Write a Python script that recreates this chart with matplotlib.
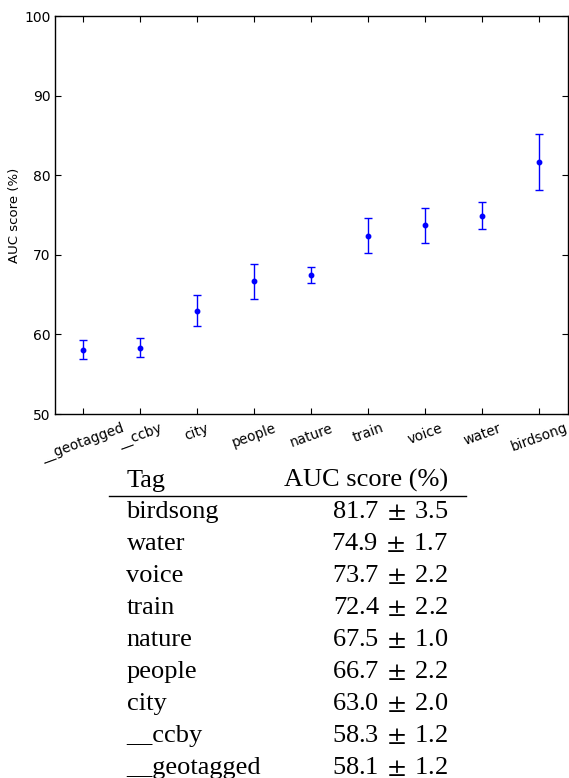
import matplotlib
matplotlib.use('Agg')
import matplotlib.pyplot as plt
from matplotlib.lines import Line2D

plt.rcParams['mathtext.fontset'] = 'stix'

# AUC score per tag (mean and error), in plot order
tags = ['__geotagged', '__ccby', 'city', 'people', 'nature',
        'train', 'voice', 'water', 'birdsong']
auc_mean = [58.1, 58.3, 63.0, 66.7, 67.5, 72.4, 73.7, 74.9, 81.7]
auc_err = [1.2, 1.2, 2.0, 2.2, 1.0, 2.2, 2.2, 1.7, 3.5]

W, H = 569, 778


def fx(px):
    return px / W


def fy(py):
    return 1 - py / H


fig = plt.figure(figsize=(W / 100, H / 100), dpi=100)
fig.patch.set_facecolor('white')

ax = fig.add_axes([fx(54.5), fy(414), fx(567.5 - 54.5), (414 - 16) / H])
x = list(range(len(tags)))
ax.errorbar(x, auc_mean, yerr=auc_err, fmt='o', color='#0000ff',
            ecolor='#0000ff', markersize=3.2, capsize=3, elinewidth=1,
            capthick=1)
ax.set_xlim(-0.5, len(tags) - 0.5)
ax.set_ylim(50, 100)
ax.set_yticks([50, 60, 70, 80, 90, 100])
ax.set_xticks(x)
ax.set_xticklabels(tags, rotation=20, ha='center', fontsize=9.8)
ax.tick_params(axis='y', labelsize=10)
ax.tick_params(direction='in', length=4, width=0.8, top=True, right=True,
               pad=3)
ax.tick_params(axis='x', pad=5)
ax.set_ylabel('AUC score (%)', fontsize=9.5, labelpad=2)
for sp in ax.spines.values():
    sp.set_linewidth(1)
    sp.set_color('black')

# table of scores below the plot
serif = 'Liberation Serif'
fs = 19
left_x, right_x = 126.5, 448
fig.text(fx(left_x), fy(487), 'Tag', family=serif, fontsize=fs,
         va='baseline', ha='left')
fig.text(fx(right_x), fy(487), 'AUC score (%)', family=serif, fontsize=fs,
         va='baseline', ha='right')
fig.add_artist(Line2D([fx(109), fx(466)], [fy(495.5), fy(495.5)],
                      color='black', lw=1))

row_base = 518
row_step = 32
for i, (t, m, e) in enumerate(zip(tags[::-1], auc_mean[::-1], auc_err[::-1])):
    yb = row_base + i * row_step
    fig.text(fx(left_x), fy(yb), t, family=serif, fontsize=fs,
             va='baseline', ha='left')
    fig.text(fx(right_x), fy(yb), f'{m:.1f}$\\;\\pm\\;${e:.1f}',
             family=serif, fontsize=fs, va='baseline', ha='right')

fig.savefig('out.png', dpi=100)
